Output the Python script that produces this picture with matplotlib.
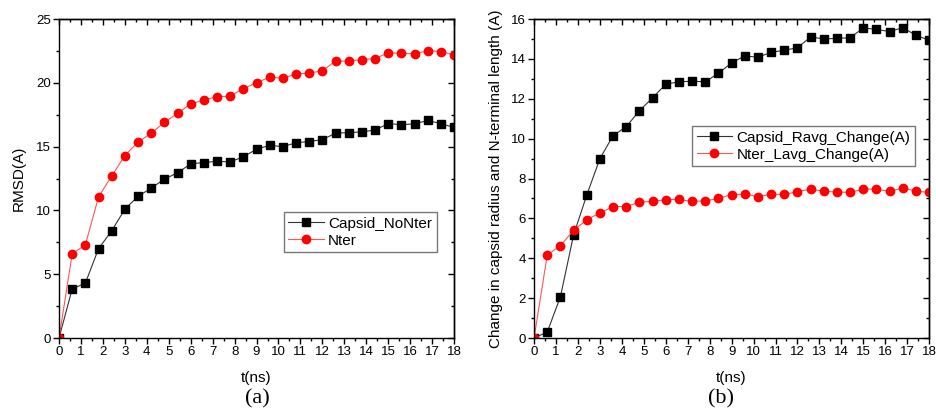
import numpy as np
import matplotlib.pyplot as plt
from matplotlib.ticker import MultipleLocator

plt.rcParams['font.family'] = ['Liberation Sans', 'DejaVu Sans']

t = np.round(np.arange(31) * 0.6, 1)

# (a) RMSD
capsid_nonter = [0, 3.85, 4.3, 7.0, 8.4, 10.1, 11.1, 11.75, 12.45, 12.95, 13.65,
                 13.75, 13.85, 13.8, 14.2, 14.8, 15.1, 15.0, 15.3, 15.4, 15.55,
                 16.05, 16.1, 16.15, 16.3, 16.8, 16.72, 16.78, 17.05, 16.8, 16.5]
nter = [0, 6.6, 7.3, 11.05, 12.7, 14.3, 15.35, 16.05, 16.9, 17.6, 18.35,
        18.65, 18.92, 18.95, 19.55, 20.0, 20.45, 20.35, 20.7, 20.75, 20.95,
        21.7, 21.7, 21.82, 21.9, 22.35, 22.3, 22.27, 22.52, 22.45, 22.18]

# (b) change in radius / length
capsid_ravg = [0, 0.3, 2.07, 5.17, 7.17, 9.0, 10.15, 10.6, 11.4, 12.05, 12.73,
               12.85, 12.88, 12.85, 13.28, 13.8, 14.15, 14.08, 14.33, 14.43, 14.56,
               15.1, 15.0, 15.03, 15.06, 15.55, 15.48, 15.37, 15.57, 15.18, 14.94]
nter_lavg = [0, 4.17, 4.63, 5.4, 5.93, 6.28, 6.59, 6.59, 6.82, 6.85, 6.94,
             6.95, 6.85, 6.88, 7.0, 7.19, 7.22, 7.09, 7.21, 7.2, 7.34,
             7.47, 7.36, 7.32, 7.31, 7.47, 7.46, 7.36, 7.52, 7.37, 7.3]

fig = plt.figure(figsize=(9.37, 4.15), dpi=100)
ax1 = fig.add_axes([0.063, 0.1855, 0.4216, 0.7687])
ax2 = fig.add_axes([0.570, 0.1855, 0.4216, 0.7687])


def style(ax, ymax, ymaj):
    ax.set_xlim(0, 18)
    ax.set_ylim(0, ymax)
    ax.xaxis.set_major_locator(MultipleLocator(1))
    ax.xaxis.set_minor_locator(MultipleLocator(0.5))
    ax.yaxis.set_major_locator(MultipleLocator(ymaj))
    ax.yaxis.set_minor_locator(MultipleLocator(ymaj / 2))
    for s in ax.spines.values():
        s.set_linewidth(1.0)
    ax.tick_params(which='both', bottom=True, left=True, top=False, right=False,
                   direction='out', labelsize=9.5, colors='black')
    ax.tick_params(which='major', length=4, width=1, pad=2)
    ax.tick_params(which='minor', length=2.5, width=1)
    # top/right ticks point inward
    for side in ('top', 'right'):
        sec = ax.secondary_xaxis('top') if side == 'top' else ax.secondary_yaxis('right')
        axis = sec.xaxis if side == 'top' else sec.yaxis
        axis.set_major_locator(MultipleLocator(1 if side == 'top' else ymaj))
        axis.set_minor_locator(MultipleLocator(0.5 if side == 'top' else ymaj / 2))
        sec.tick_params(which='both', direction='in', labelsize=0,
                        labeltop=False, labelright=False)
        sec.tick_params(which='major', length=4, width=1)
        sec.tick_params(which='minor', length=2.5, width=1)
        sec.spines[side].set_linewidth(1.0)
    ax.set_xlabel('t(ns)', fontsize=11, labelpad=9)


ax1.plot(t, capsid_nonter, color='#333333', lw=0.8, marker='s', ms=5.2,
         mfc='black', mec='black', label='Capsid_NoNter')
ax1.plot(t, nter, color='#ff5555', lw=0.8, marker='o', ms=6,
         mfc='red', mec='red', label='Nter')
style(ax1, 25, 5)
ax1.set_ylabel('RMSD(A)', fontsize=11, labelpad=7)
ax1.legend(loc='upper left', bbox_to_anchor=(0.303, 0.489),
           bbox_transform=fig.transFigure, fancybox=False, edgecolor='#777777',
           fontsize=11, framealpha=1, borderpad=0.3, handlelength=2.3,
           handletextpad=0.3, labelspacing=0.2, borderaxespad=0)

ax2.plot(t, capsid_ravg, color='#333333', lw=0.8, marker='s', ms=5.2,
         mfc='black', mec='black', label='Capsid_Ravg_Change(A)')
ax2.plot(t, nter_lavg, color='#ff5555', lw=0.8, marker='o', ms=6,
         mfc='red', mec='red', label='Nter_Lavg_Change(A)')
style(ax2, 16, 2)
ax2.set_ylabel('Change in capsid radius and N-terminal length (A)', fontsize=11,
               labelpad=6)
ax2.legend(loc='upper left', bbox_to_anchor=(0.7385, 0.696),
           bbox_transform=fig.transFigure, fancybox=False, edgecolor='#777777',
           fontsize=11, framealpha=1, borderpad=0.3, handlelength=2.3,
           handletextpad=0.3, labelspacing=0.2, borderaxespad=0)

fig.text(0.2745, 0.04, '(a)', fontsize=16, family='Liberation Serif',
         ha='center', va='center')
fig.text(0.77, 0.04, '(b)', fontsize=16, family='Liberation Serif',
         ha='center', va='center')

fig.savefig('out.png', dpi=100)
